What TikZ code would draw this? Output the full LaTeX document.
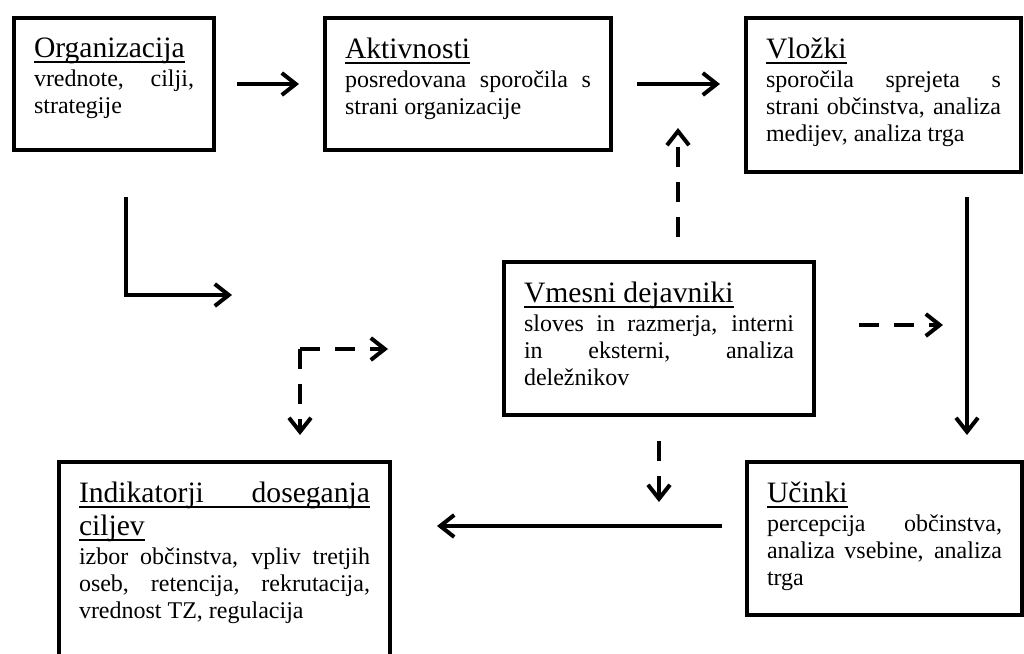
\documentclass[tikz,border=0pt]{standalone}
\usepackage{fontspec}
\setmainfont{Liberation Serif}
\usetikzlibrary{arrows.meta}

\tolerance=10000
\hbadness=10000
\hyphenpenalty=10000

% naslov okvirja, podcrtan
\newcommand{\velik}{\fontsize{14.8pt}{16.5pt}\selectfont}
\newcommand{\podcrtaj}[1]{\leavevmode\setbox0=\hbox{#1}\rlap{\rule[-2.6pt]{\wd0}{0.8pt}}\box0}
\newcommand{\naslov}[1]{{\velik\podcrtaj{#1}\par}\vspace{1pt}}

\tikzset{
  blok/.style={draw, line width=2pt, anchor=north west, inner sep=10pt,
    font=\fontsize{12pt}{13.5pt}\selectfont},
  puscica/.style={line width=2pt, -{Straight Barb[length=7pt,width=11pt]}},
  crtkano/.style={puscica, dash pattern=on 10pt off 7.5pt}
}

\begin{document}
\begin{tikzpicture}[x=0.5pt, y=-0.5pt]
    \useasboundingbox (0,0) rectangle (1024,654);

    % Okvirji
    \node[blok] (org) at (12,16) {\parbox[c][46pt][t]{80pt}{\naslov{Organizacija}
        vrednote, cilji,\linebreak strategije}};
    \node[blok] (akt) at (323,16) {\parbox[c][46pt][t]{123pt}{\naslov{Aktivnosti}
        posredovana sporočila s\linebreak strani organizacije}};
    \node[blok] (vlo) at (744,16) {\parbox[c][57pt][t]{117.5pt}{\naslov{Vložki}
        sporočila sprejeta s\linebreak strani občinstva, analiza\linebreak medijev, analiza trga}};
    \node[blok] (vme) at (502,260) {\parbox[c][56.5pt][t]{135pt}{\naslov{Vmesni dejavniki}
        sloves in razmerja, interni\linebreak in eksterni, analiza\linebreak deležnikov}};
    \node[blok] (ind) at (57,460) {\parbox[c][100pt][t]{145.5pt}{%
        {\velik\podcrtaj{\hbox to 145.5pt{Indikatorji\hfill doseganja}}\par}\naslov{ciljev}
        izbor občinstva, vpliv tretjih\linebreak oseb, retencija, rekrutacija,\linebreak vrednost TZ, regulacija}};
    \node[blok] (uci) at (745,460) {\parbox[c][56.5pt][t]{117.5pt}{\naslov{Učinki}
        percepcija občinstva,\linebreak analiza vsebine, analiza\linebreak trga}};

    % Tocke na puscicah
    \coordinate (p1) at (678,82);
    \coordinate (p2) at (232,295);
    \coordinate (kot) at (300,349);
    \coordinate (p3) at (967,325);
    \coordinate (p4) at (656,526);

    % Puscice
    \draw[puscica, shorten <=10.5pt, shorten >=12pt] (org) -- (akt);
    \draw[puscica, shorten <=12pt, shorten >=12pt] (akt) -- (akt -| vlo.west);
    \draw[puscica, shorten <=22.5pt] ([xshift=5.75pt]org.south) |- (p2);
    \draw[puscica, shorten <=11.5pt, shorten >=12.5pt] (vlo.south -| p3) -- (uci.north -| p3);
    \draw[puscica, shorten <=11.5pt, shorten >=22.5pt] (uci.west |- p4) -- (ind.east |- p4);

    % Crtkane puscice
    \draw[crtkano, shorten <=11.5pt, shorten >=23pt] (vme.north -| p1) -- (p1);
    \draw[crtkano, shorten <=21.5pt, shorten >=12pt] (vme.east |- p3) -- (p3);
    \draw[crtkano, shorten <=12pt, shorten >=12pt] (vme.south) -- (vme.south |- p4);
    \draw[crtkano, shorten >=57pt] (kot) -- (kot -| vme.west);
    \draw[crtkano, shorten >=12.5pt] (kot) -- (kot |- ind.north);
\end{tikzpicture}
\end{document}
